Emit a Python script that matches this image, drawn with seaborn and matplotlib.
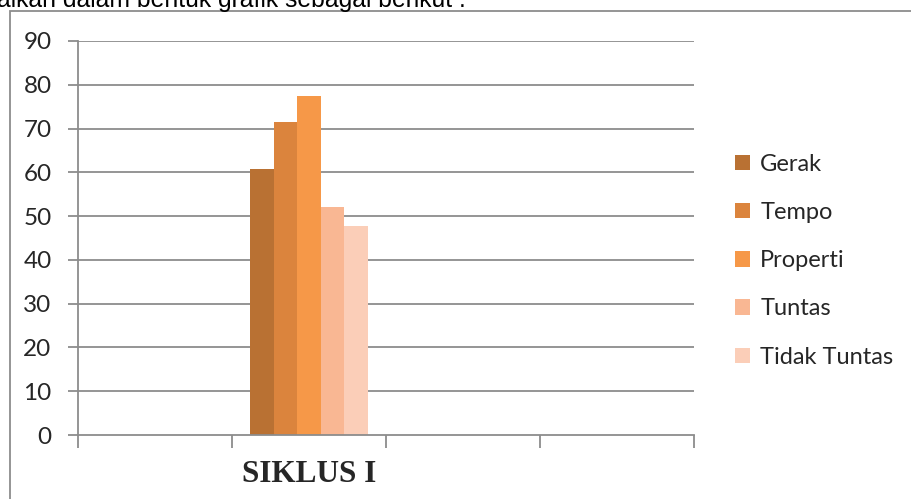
import matplotlib
matplotlib.use("Agg")
import matplotlib.pyplot as plt
import seaborn as sns
import pandas as pd
from matplotlib.patches import Rectangle

# ---- data ----
siklus = ["SIKLUS I"]
aspek = ["Gerak", "Tempo", "Properti", "Tuntas", "Tidak Tuntas"]
nilai = [60.7, 71.5, 77.4, 52.0, 47.7]
warna = ["#B97133", "#DB843D", "#F69848", "#F9B793", "#FBCEB8"]
yticks = [0, 10, 20, 30, 40, 50, 60, 70, 80, 90]
judul_atas = "aikan dalam bentuk grafik sebagai berikut :"

df = pd.DataFrame({
    "siklus": siklus * len(aspek),
    "aspek": aspek,
    "nilai": nilai,
})

sns.set_theme(style="white")
plt.rcParams["font.family"] = ["Lato", "DejaVu Sans"]

W, H = 911, 499
fig = plt.figure(figsize=(W / 100, H / 100), dpi=100)
ax = fig.add_axes([78 / W, 1 - 435 / H, 616 / W, 394 / H])

sns.barplot(data=df, x="siklus", y="nilai", hue="aspek", hue_order=aspek,
            palette=warna, saturation=1, width=0.766, gap=0, ax=ax,
            legend=True, linewidth=0)

ax.set_xlim(-1.5, 2.5)
ax.set_ylim(0, 90)
ax.set_yticks(yticks)
ax.set_yticklabels([str(v) for v in yticks], fontsize=17.5)
ax.set_xticks([0])
ax.set_xticklabels(siklus, fontsize=22.5, fontweight="bold",
                   family="Liberation Serif")
ax.set_xticks([-1.5, -0.5, 0.5, 1.5, 2.5], minor=True)
ax.tick_params(axis="x", which="major", length=0, pad=18)
ax.tick_params(axis="x", which="minor", length=9, width=1.3, color="#8C8C8C",
               direction="out", bottom=True)
ax.tick_params(axis="y", which="major", length=7, width=1.3, color="#8C8C8C",
               direction="out", left=True, pad=12)
ax.set_xlabel("")
ax.set_ylabel("")

ax.grid(False)
for v in yticks[1:]:
    ax.axhline(v, color="#8C8C8C", lw=1.3, zorder=0)
ax.set_axisbelow(True)

for s in ["top", "right"]:
    ax.spines[s].set_visible(False)
for s in ["left", "bottom"]:
    ax.spines[s].set_color("#8C8C8C")
    ax.spines[s].set_linewidth(1.3)

# legend
handles, labels = ax.get_legend_handles_labels()
ax.legend(handles, labels, loc="upper left",
          bbox_to_anchor=(735 / W, 1 - 154 / H), bbox_transform=fig.transFigure,
          frameon=False, fontsize=17, handlelength=0.62, handleheight=0.62,
          handletextpad=0.45, labelspacing=1.15, borderaxespad=0, borderpad=0)

# outer frame of chart
fig.patches.append(Rectangle((9.5 / W, -0.05), 1.2, 1 - 11 / H + 0.05,
                             transform=fig.transFigure, fill=False,
                             edgecolor="#8C8C8C", lw=1.3))

# cropped document text at top
fig.text(-3 / W, 1 - 7.5 / H, judul_atas, fontsize=17.8,
         family="Liberation Sans", va="baseline", ha="left", color="black")

fig.savefig("out.png", dpi=100)
